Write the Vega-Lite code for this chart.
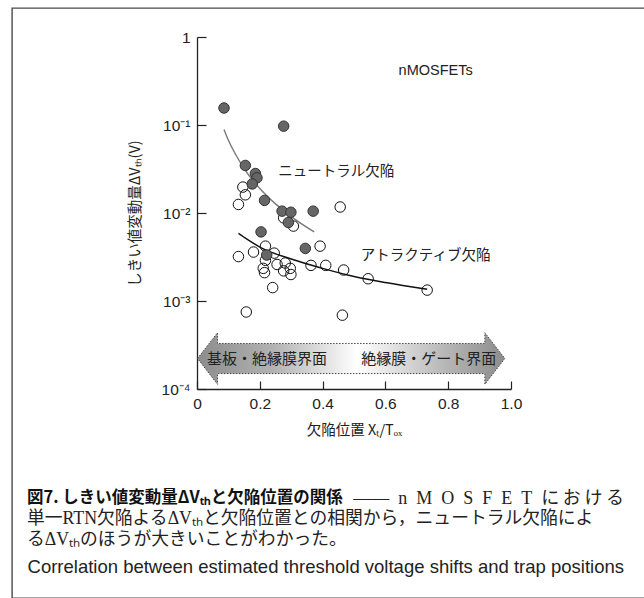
{
  "$schema": "https://vega.github.io/schema/vega-lite/v6.json",
  "padding": {"left": 11, "top": 7, "right": 0, "bottom": 0},
  "background": "white",
  "config": {"view": {"stroke": "#4a4a4a", "strokeWidth": 1.4}, "font": "Liberation Sans"},
  "title": {
    "text": "――\u2002n\u2002M\u2002O\u2002S\u2002F\u2002E\u2002T\u2002に\u2009お\u2009け\u2009る",
    "subtitle": "Correlation between estimated threshold voltage shifts and trap positions\u00a0",
    "orient": "top", "anchor": "end", "frame": "group", "offset": -569, "dx": -22,
    "font": "Liberation Serif, Noto Sans CJK JP", "fontSize": 18, "fontWeight": "normal", "color": "#222",
    "subtitleFont": "Liberation Sans", "subtitleFontSize": 18.5, "subtitleColor": "#222", "subtitlePadding": 50
  },
  "vconcat": [
    {
      "width": 634,
      "height": 590,
      "title": {
        "text": "図7. しきい値変動量ΔVₜₕと欠陥位置の関係",
        "subtitle": ["単一RTN欠陥よるΔVₜₕと欠陥位置との相関から，ニュートラル欠陥によ", "るΔVₜₕのほうが大きいことがわかった。"],
        "orient": "top", "anchor": "start", "frame": "group", "offset": -541, "dx": 15,
        "font": "Noto Sans CJK JP", "fontSize": 16.5, "fontWeight": "bold", "color": "#111",
        "subtitleFont": "Liberation Serif, Noto Sans CJK JP", "subtitleFontSize": 17.8, "subtitleColor": "#222",
        "subtitlePadding": 3, "subtitleLineHeight": 21.5
      },
      "encoding": {
        "x": {
          "field": "x", "type": "quantitative",
          "scale": {"domain": [0, 1], "range": [185, 499], "nice": false, "zero": false},
          "axis": {
            "orient": "bottom", "offset": -209, "grid": false,
            "values": [0, 0.2, 0.4, 0.6, 0.8, 1.0],
            "labelExpr": "datum.value == 0 ? '0' : format(datum.value, '.1f')",
            "tickSize": -8, "tickWidth": 1.2, "tickColor": "#222", "domainColor": "#222", "domainWidth": 1.3,
            "labelFont": "Liberation Sans", "labelFontSize": 15.5, "labelColor": "#222", "labelPadding": 15,
            "labelFlush": false, "labelOverlap": false,
            "title": "欠陥位置 Xₜ/Tₒₓ", "titleFont": "Noto Sans CJK JP", "titleFontSize": 14.5,
            "titleFontWeight": "normal", "titleColor": "#222", "titlePadding": 12
          }
        },
        "y": {
          "field": "y", "type": "quantitative",
          "scale": {"type": "log", "domain": [0.0001, 1], "range": [381, 29], "nice": false},
          "axis": {
            "orient": "left", "offset": -185, "grid": false,
            "values": [0.0001, 0.001, 0.01, 0.1, 1],
            "labelExpr": "datum.value > 0.5 ? '1' : datum.value > 0.05 ? '10⁻¹' : datum.value > 0.005 ? '10⁻²' : datum.value > 0.0005 ? '10⁻³' : '10⁻⁴'",
            "tickSize": -9, "tickWidth": 1.2, "tickColor": "#222", "domainColor": "#222", "domainWidth": 1.3,
            "labelFont": "Liberation Sans", "labelFontSize": 15.5, "labelColor": "#222", "labelPadding": 16,
            "labelFlush": false, "labelOverlap": false,
            "title": "しきい値変動量ΔVₜₕ(V)", "titleFont": "Noto Sans CJK JP", "titleFontSize": 14.5,
            "titleFontWeight": "normal", "titleColor": "#222", "titlePadding": 19
          }
        }
      },
      "layer": [
        {
          "data": {"values": [{"x": 0.491, "y": 0.000222}]},
          "mark": {
            "type": "point", "filled": true, "opacity": 1,
            "shape": "M -1 0 L -0.87 -0.168 L -0.87 -0.098 L 0.87 -0.098 L 0.87 -0.168 L 1 0 L 0.87 0.168 L 0.87 0.098 L -0.87 0.098 L -0.87 0.168 Z",
            "size": 94430,
            "fill": {"gradient": "linear", "x1": 0, "x2": 1, "y1": 0, "y2": 0,
              "stops": [{"offset": 0, "color": "#8c8c8c"}, {"offset": 0.25, "color": "#b3b3b3"}, {"offset": 0.52, "color": "#ffffff"}, {"offset": 0.8, "color": "#b8b8b8"}, {"offset": 1, "color": "#8c8c8c"}]},
            "stroke": "#444", "strokeWidth": 1, "strokeDash": [1.5, 1.5]
          }
        },
        {
          "data": {"values": [
            {"x": 0.223, "y": 0.000222, "label": "基板・絶縁膜界面"},
            {"x": 0.738, "y": 0.000222, "label": "絶縁膜・ゲート界面"}
          ]},
          "mark": {"type": "text", "align": "center", "baseline": "middle", "font": "Noto Sans CJK JP", "fontSize": 15, "color": "#222"},
          "encoding": {"text": {"field": "label"}}
        },
        {
          "data": {"values": [
            {"curve": "neutral", "x": 0.086, "y": 0.089},
            {"curve": "neutral", "x": 0.1, "y": 0.067},
            {"curve": "neutral", "x": 0.125, "y": 0.045},
            {"curve": "neutral", "x": 0.15, "y": 0.032},
            {"curve": "neutral", "x": 0.2, "y": 0.019},
            {"curve": "neutral", "x": 0.25, "y": 0.0127},
            {"curve": "neutral", "x": 0.3, "y": 0.0091},
            {"curve": "neutral", "x": 0.373, "y": 0.0061},
            {"curve": "attractive", "x": 0.132, "y": 0.00586},
            {"curve": "attractive", "x": 0.15, "y": 0.0053},
            {"curve": "attractive", "x": 0.2, "y": 0.0041},
            {"curve": "attractive", "x": 0.3, "y": 0.003},
            {"curve": "attractive", "x": 0.4, "y": 0.00235},
            {"curve": "attractive", "x": 0.5, "y": 0.0019},
            {"curve": "attractive", "x": 0.6, "y": 0.00162},
            {"curve": "attractive", "x": 0.733, "y": 0.00136}
          ]},
          "mark": {"type": "line", "interpolate": "monotone", "strokeWidth": 1.4},
          "encoding": {
            "detail": {"field": "curve"},
            "color": {"field": "curve", "type": "nominal", "scale": {"domain": ["neutral", "attractive"], "range": ["#7a7a7a", "#111111"]}, "legend": null}
          }
        },
        {
          "data": {"values": [
            {"type": "attractive", "x": 0.146, "y": 0.0197},
            {"type": "attractive", "x": 0.154, "y": 0.0161},
            {"type": "attractive", "x": 0.132, "y": 0.0125},
            {"type": "attractive", "x": 0.456, "y": 0.0117},
            {"type": "attractive", "x": 0.276, "y": 0.0088},
            {"type": "attractive", "x": 0.307, "y": 0.0071},
            {"type": "attractive", "x": 0.218, "y": 0.0042},
            {"type": "attractive", "x": 0.392, "y": 0.0042},
            {"type": "attractive", "x": 0.132, "y": 0.0032},
            {"type": "attractive", "x": 0.18, "y": 0.0036},
            {"type": "attractive", "x": 0.246, "y": 0.0035},
            {"type": "attractive", "x": 0.218, "y": 0.0029},
            {"type": "attractive", "x": 0.255, "y": 0.0026},
            {"type": "attractive", "x": 0.281, "y": 0.0027},
            {"type": "attractive", "x": 0.276, "y": 0.0022},
            {"type": "attractive", "x": 0.297, "y": 0.00235},
            {"type": "attractive", "x": 0.211, "y": 0.00235},
            {"type": "attractive", "x": 0.215, "y": 0.0021},
            {"type": "attractive", "x": 0.299, "y": 0.002},
            {"type": "attractive", "x": 0.363, "y": 0.00254},
            {"type": "attractive", "x": 0.41, "y": 0.00254},
            {"type": "attractive", "x": 0.467, "y": 0.00225},
            {"type": "attractive", "x": 0.545, "y": 0.00179},
            {"type": "attractive", "x": 0.733, "y": 0.00133},
            {"type": "attractive", "x": 0.241, "y": 0.00142},
            {"type": "attractive", "x": 0.157, "y": 0.00075},
            {"type": "attractive", "x": 0.463, "y": 0.00069},
            {"type": "neutral", "x": 0.086, "y": 0.156},
            {"type": "neutral", "x": 0.276, "y": 0.097},
            {"type": "neutral", "x": 0.154, "y": 0.0347},
            {"type": "neutral", "x": 0.186, "y": 0.0281},
            {"type": "neutral", "x": 0.191, "y": 0.0251},
            {"type": "neutral", "x": 0.176, "y": 0.0214},
            {"type": "neutral", "x": 0.215, "y": 0.0139},
            {"type": "neutral", "x": 0.271, "y": 0.0105},
            {"type": "neutral", "x": 0.299, "y": 0.0102},
            {"type": "neutral", "x": 0.37, "y": 0.0105},
            {"type": "neutral", "x": 0.291, "y": 0.0078},
            {"type": "neutral", "x": 0.204, "y": 0.0061},
            {"type": "neutral", "x": 0.345, "y": 0.00396},
            {"type": "neutral", "x": 0.222, "y": 0.00333}
          ]},
          "mark": {"type": "point", "shape": "circle", "size": 110, "strokeWidth": 1, "opacity": 1},
          "encoding": {
            "fill": {"field": "type", "type": "nominal", "scale": {"domain": ["neutral", "attractive"], "range": ["#666666", "transparent"]}, "legend": null},
            "stroke": {"field": "type", "type": "nominal", "scale": {"domain": ["neutral", "attractive"], "range": ["#333333", "#111111"]}, "legend": null}
          }
        },
        {
          "data": {"values": [
            {"x": 0.642, "y": 0.408, "label": "nMOSFETs"},
            {"x": 0.259, "y": 0.0294, "label": "ニュートラル欠陥"},
            {"x": 0.5216, "y": 0.00324, "label": "アトラクティブ欠陥"}
          ]},
          "mark": {"type": "text", "align": "left", "baseline": "middle", "font": "Liberation Sans, Noto Sans CJK JP", "fontSize": 14.5, "color": "#222"},
          "encoding": {"text": {"field": "label"}}
        }
      ]
    }
  ]
}
